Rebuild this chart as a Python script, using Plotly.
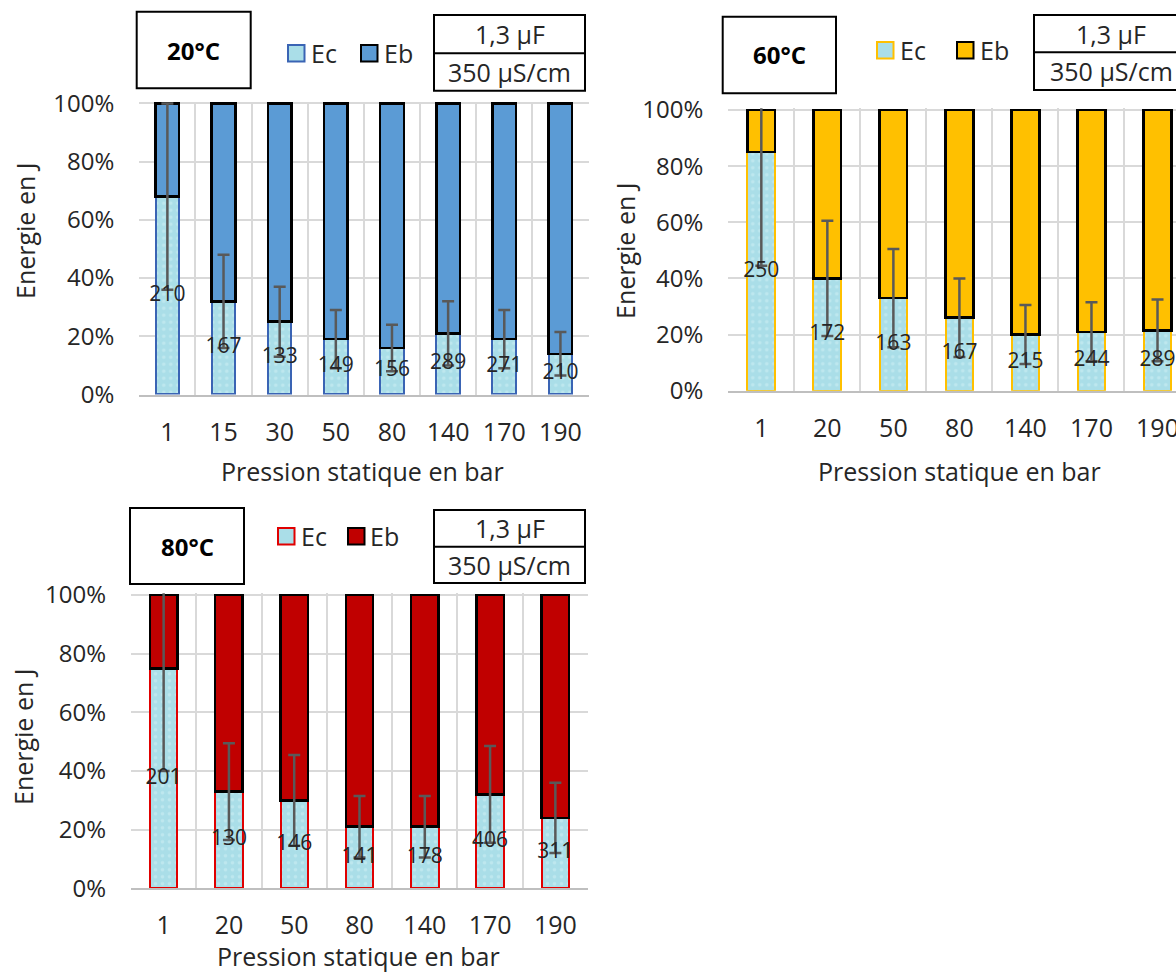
import plotly.graph_objects as go

# ---------------- data ----------------
cats_20 = ["1", "15", "30", "50", "80", "140", "170", "190"]
ec_20 = [68, 32, 25, 19, 16, 21, 19, 14]
eb_20 = [32, 68, 75, 81, 84, 79, 81, 86]
err_20 = [32, 16, 12, 10, 8, 11, 10, 7.5]
lab_20 = ["210", "167", "133", "149", "156", "289", "271", "210"]

cats_60 = ["1", "20", "50", "80", "140", "170", "190"]
ec_60 = [85, 40, 33, 26, 20, 21, 21.5]
eb_60 = [15, 60, 67, 74, 80, 79, 78.5]
err_60 = [40.5, 20.5, 17.5, 14, 10.5, 10.5, 11]
lab_60 = ["250", "172", "163", "167", "215", "244", "289"]

cats_80 = ["1", "20", "50", "80", "140", "170", "190"]
ec_80 = [75, 33, 30, 21, 21, 32, 24]
eb_80 = [25, 67, 70, 79, 79, 68, 76]
err_80 = [35, 16.5, 15.5, 10.5, 10.5, 16.5, 12]
lab_80 = ["201", "130", "146", "141", "178", "406", "311"]

titles = ["20°C", "60°C", "80°C"]
y_ticks = [0, 20, 40, 60, 80, 100]
y_tick_text = ["0%", "20%", "40%", "60%", "80%", "100%"]

W, H = 1176, 974
FONT = "Open Sans"
EC_FILL = "#aadee8"

def px(x):
    return x / W

def py(y):
    return 1 - y / H

panels = [
    dict(cats=cats_20, ec=ec_20, eb=eb_20, err=err_20, lab=lab_20, title=titles[0],
         color="#5b9bd5", edge="#3a64b4",
         xd=[139.3, 588.5], yd=[101.7, 394.5], xr=[-0.5, len(cats_20) - 0.5],
         ytitle=(25, 231), xtitle=(362, 471),
         tbox=(136.7, 11.7, 250.7, 88.3),
         leg=(288, 45, 361), info=(434, 15, 585, 90.7, 53.3)),
    dict(cats=cats_60, ec=ec_60, eb=eb_60, err=err_60, lab=lab_60, title=titles[1],
         color="#ffc000", edge="#ffc000",
         xd=[728.3, 1176], yd=[108.3, 390.7], xr=[-0.5, 6.28],
         ytitle=(625, 251), xtitle=(959, 471),
         tbox=(722.7, 16.7, 836, 93.3),
         leg=(877, 42, 957), info=(1034, 15, 1188, 90, 52.3)),
    dict(cats=cats_80, ec=ec_80, eb=eb_80, err=err_80, lab=lab_80, title=titles[2],
         color="#c00000", edge="#e00000",
         xd=[131, 588], yd=[593.3, 888.3], xr=[-0.5, len(cats_80) - 0.5],
         ytitle=(23, 737), xtitle=(358, 956),
         tbox=(130, 508, 244, 584),
         leg=(278, 528, 348), info=(434, 510, 585, 583, 546.7)),
]

fig = go.Figure()
shapes = []
annotations = []

for i, p in enumerate(panels, start=1):
    xa = "x" if i == 1 else f"x{i}"
    ya = "y" if i == 1 else f"y{i}"
    fig.add_trace(go.Bar(
        x=p["cats"], y=p["ec"], name="Ec", xaxis=xa, yaxis=ya,
        marker=dict(color=EC_FILL, line=dict(color=p["edge"], width=2),
                    pattern=dict(shape=".", fgcolor="#d2eff4", bgcolor=EC_FILL,
                                 size=7, solidity=0.2)),
        showlegend=False, hoverinfo="skip"))
    fig.add_trace(go.Bar(
        x=p["cats"], y=p["eb"], name="Eb", xaxis=xa, yaxis=ya,
        marker=dict(color=p["color"], line=dict(color="#000000", width=2.5)),
        showlegend=False, hoverinfo="skip"))
    fig.add_trace(go.Scatter(
        x=p["cats"], y=p["ec"], mode="markers", xaxis=xa, yaxis=ya,
        marker=dict(size=1, color="rgba(0,0,0,0)"),
        error_y=dict(type="data", array=p["err"], visible=True,
                     color="#595959", thickness=2.5, width=6),
        showlegend=False, hoverinfo="skip"))
    fig.add_trace(go.Scatter(
        x=p["cats"], y=[v / 2 for v in p["ec"]], mode="text", text=p["lab"],
        textposition="middle center", xaxis=xa, yaxis=ya,
        textfont=dict(family=FONT, size=21, color="#262626"),
        showlegend=False, hoverinfo="skip"))

    axis_x = dict(domain=[px(p["xd"][0]), px(p["xd"][1])], anchor=ya,
                  type="category", range=p["xr"], tickson="boundaries",
                  showgrid=True, gridcolor="#d9d9d9", gridwidth=2,
                  showline=True, linecolor="#bfbfbf", linewidth=2,
                  ticks="", ticklabelstandoff=14, automargin=False,
                  tickfont=dict(family=FONT, size=25, color="#262626"),
                  fixedrange=True)
    axis_y = dict(domain=[py(p["yd"][1]), py(p["yd"][0])], anchor=xa,
                  range=[0, 100.6], tickvals=y_ticks, ticktext=y_tick_text,
                  tickmode="array",
                  showgrid=True, gridcolor="#d9d9d9", gridwidth=2,
                  zeroline=False, showline=False,
                  ticks="", ticklabelstandoff=24, automargin=False,
                  tickfont=dict(family=FONT, size=24, color="#262626"),
                  fixedrange=True)
    fig.update_layout(**{("xaxis" if i == 1 else f"xaxis{i}"): axis_x,
                         ("yaxis" if i == 1 else f"yaxis{i}"): axis_y})

    # axis titles
    annotations.append(dict(x=px(p["ytitle"][0]), y=py(p["ytitle"][1]), xref="paper", yref="paper",
                            text="Energie en J", textangle=-90, showarrow=False,
                            font=dict(family=FONT, size=25, color="#262626"),
                            xanchor="center", yanchor="middle"))
    annotations.append(dict(x=px(p["xtitle"][0]), y=py(p["xtitle"][1]), xref="paper", yref="paper",
                            text="Pression statique en bar", showarrow=False,
                            font=dict(family=FONT, size=25, color="#262626"),
                            xanchor="center", yanchor="middle"))

    # title box
    x0, y0, x1, y1 = p["tbox"]
    shapes.append(dict(type="rect", xref="paper", yref="paper", x0=px(x0), x1=px(x1),
                       y0=py(y1), y1=py(y0), line=dict(color="#000000", width=2),
                       fillcolor="#ffffff", layer="above"))
    annotations.append(dict(x=px((x0 + x1) / 2), y=py((y0 + y1) / 2), xref="paper", yref="paper",
                            text="<b>" + p["title"] + "</b>", showarrow=False,
                            font=dict(family=FONT, size=24, color="#000000"),
                            xanchor="center", yanchor="middle"))

    # legend
    lx_ec, ly, lx_eb = p["leg"]
    sq = 16.5
    shapes.append(dict(type="rect", xref="paper", yref="paper", x0=px(lx_ec), x1=px(lx_ec + sq),
                       y0=py(ly + sq), y1=py(ly), line=dict(color=p["edge"], width=2),
                       fillcolor=EC_FILL, layer="above"))
    shapes.append(dict(type="rect", xref="paper", yref="paper", x0=px(lx_eb), x1=px(lx_eb + sq),
                       y0=py(ly + sq), y1=py(ly), line=dict(color="#000000", width=2),
                       fillcolor=p["color"], layer="above"))
    annotations.append(dict(x=px(lx_ec + sq + 4), y=py(ly + sq / 2), xref="paper", yref="paper",
                            text="Ec", showarrow=False, xanchor="left", yanchor="middle",
                            font=dict(family=FONT, size=25, color="#262626")))
    annotations.append(dict(x=px(lx_eb + sq + 4), y=py(ly + sq / 2), xref="paper", yref="paper",
                            text="Eb", showarrow=False, xanchor="left", yanchor="middle",
                            font=dict(family=FONT, size=25, color="#262626")))

    # info box
    ix0, iy0, ix1, iy1, idiv = p["info"]
    shapes.append(dict(type="rect", xref="paper", yref="paper", x0=px(ix0), x1=px(ix1),
                       y0=py(iy1), y1=py(iy0), line=dict(color="#000000", width=2),
                       fillcolor="#ffffff", layer="above"))
    shapes.append(dict(type="line", xref="paper", yref="paper", x0=px(ix0), x1=px(ix1),
                       y0=py(idiv), y1=py(idiv), line=dict(color="#000000", width=2),
                       layer="above"))
    annotations.append(dict(x=px((ix0 + ix1) / 2), y=py((iy0 + idiv) / 2), xref="paper", yref="paper",
                            text="1,3 µF", showarrow=False, xanchor="center", yanchor="middle",
                            font=dict(family=FONT, size=25, color="#262626")))
    annotations.append(dict(x=px((ix0 + ix1) / 2), y=py((idiv + iy1) / 2), xref="paper", yref="paper",
                            text="350 µS/cm", showarrow=False, xanchor="center", yanchor="middle",
                            font=dict(family=FONT, size=25, color="#262626")))

fig.update_layout(
    width=W, height=H, margin=dict(l=0, r=0, t=0, b=0, pad=0, autoexpand=False),
    paper_bgcolor="#ffffff", plot_bgcolor="#ffffff",
    barmode="stack", bargap=0.58,
    font=dict(family=FONT, color="#262626"),
    shapes=shapes, annotations=annotations, showlegend=False,
)

fig.write_html("out.html", config={"displayModeBar": False},
               post_script="document.body.style.margin='0';document.body.style.overflow='hidden';")
